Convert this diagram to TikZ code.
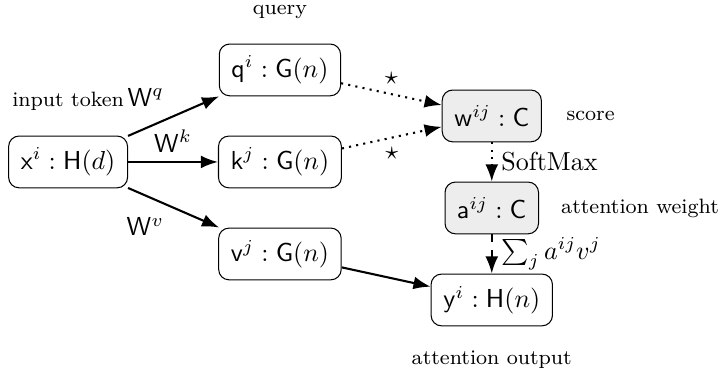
\documentclass[tikz,border=0pt]{standalone}
\usepackage{amsmath,amssymb}
\usepackage{tikz}
\usetikzlibrary{arrows.meta,positioning}
\tikzset{
  box/.style={draw,rounded corners,minimum height=7mm,inner xsep=4.7pt},
  scorebox/.style={box,fill=black!7},
  note/.style={font=\footnotesize},
  arr/.style={-{Latex},thick},
  dotarr/.style={arr,dotted},
  dasharr/.style={arr,dashed}
}

\begin{document}
\begin{tikzpicture}[on grid,node distance=35.4pt and 81.5pt]
  \useasboundingbox (-26.2pt,-83.1pt) rectangle (250.8pt,62.3pt);
  \node[box] (x) {$\mathsf{x}^i : \mathsf{H}(d)$};
  \node[box,above right=of x] (q) {$\mathsf{q}^i : \mathsf{G}(n)$};
  \node[box,right=of x] (k) {$\mathsf{k}^j : \mathsf{G}(n)$};
  \node[box,below right=of x] (v) {$\mathsf{v}^j : \mathsf{G}(n)$};
  \node[scorebox,above right=17.7pt and 81.5pt of k] (w) {$\mathsf{w}^{ij} : \mathsf{C}$};
  \node[scorebox,below=of w] (a) {$\mathsf{a}^{ij} : \mathsf{C}$};
  \node[box,below=of a] (y) {$\mathsf{y}^i : \mathsf{H}(n)$};
  % annotations
  \node[note,above=6pt of x.north,anchor=south] (xnote) {input token};
  \node[note,above=6pt of q.north,anchor=south] (qnote) {query};
  \node[note,right=6pt of w.east,anchor=west] (wnote) {score};
  \node[note,right=5pt of a.east,anchor=west] (anote) {attention weight};
  \node[note,below=6pt of y.south,anchor=north] (ynote) {attention output};
  % edges
  \draw[arr] (x) -- node[above left] {$\mathsf{W}^q$} (q);
  \draw[arr] (x) -- node[above] {$\mathsf{W}^k$} (k);
  \draw[arr] (x) -- node[below left] {$\mathsf{W}^v$} (v);
  \draw[dotarr] (q) -- node[above] {$\star$} (w);
  \draw[dotarr] (k) -- node[below] {$\star$} (w);
  \draw[dotarr] (w) -- node[right] {SoftMax} (a);
  \draw[dasharr] (a) -- node[right] {$\sum_j a^{ij} v^j$} (y);
  \draw[arr] (v) -- (y);
\end{tikzpicture}
\end{document}
